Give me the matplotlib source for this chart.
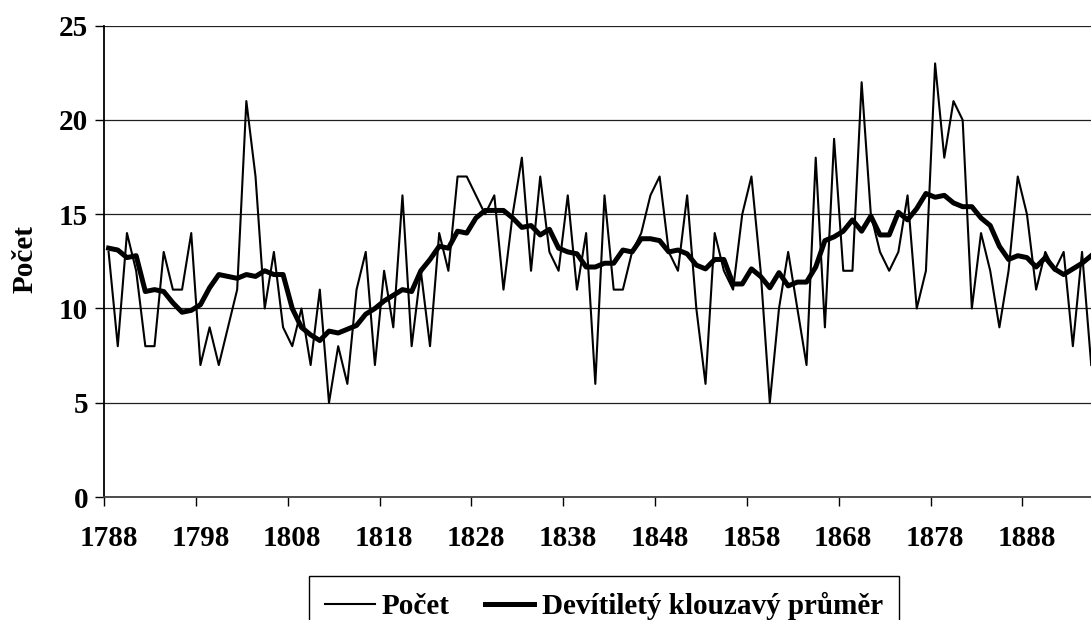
import matplotlib.pyplot as plt
import numpy as np

# yearly counts 1788-1895 and the 9-year moving average
years = np.arange(1788, 1896)
pocet = [13, 8, 14, 12, 8, 8, 13, 11, 11, 14,
         7, 9, 7, 9, 11, 21, 17, 10, 13, 9,
         8, 10, 7, 11, 5, 8, 6, 11, 13, 7,
         12, 9, 16, 8, 12, 8, 14, 12, 17, 17,
         16, 15, 16, 11, 15, 18, 12, 17, 13, 12,
         16, 11, 14, 6, 16, 11, 11, 13, 14, 16,
         17, 13, 12, 16, 10, 6, 14, 12, 11, 15,
         17, 12, 5, 10, 13, 10, 7, 18, 9, 19,
         12, 12, 22, 15, 13, 12, 13, 16, 10, 12,
         23, 18, 21, 20, 10, 14, 12, 9, 12, 17,
         15, 11, 13, 12, 13, 8, 13, 7]
prumer = [13.2, 13.1, 12.7, 12.8, 10.9, 11.0, 10.9, 10.3, 9.8, 9.9,
          10.2, 11.1, 11.8, 11.7, 11.6, 11.8, 11.7, 12.0, 11.8, 11.8,
          10.0, 9.0, 8.6, 8.3, 8.8, 8.7, 8.9, 9.1, 9.7, 10.0,
          10.4, 10.7, 11.0, 10.9, 12.0, 12.6, 13.3, 13.2, 14.1, 14.0,
          14.8, 15.2, 15.2, 15.2, 14.8, 14.3, 14.4, 13.9, 14.2, 13.2,
          13.0, 12.9, 12.2, 12.2, 12.4, 12.4, 13.1, 13.0, 13.7, 13.7,
          13.6, 13.0, 13.1, 12.9, 12.3, 12.1, 12.6, 12.6, 11.3, 11.3,
          12.1, 11.7, 11.1, 11.9, 11.2, 11.4, 11.4, 12.2, 13.6, 13.8,
          14.1, 14.7, 14.1, 14.9, 13.9, 13.9, 15.1, 14.7, 15.3, 16.1,
          15.9, 16.0, 15.6, 15.4, 15.4, 14.8, 14.4, 13.3, 12.6, 12.8,
          12.7, 12.2, 12.7, 12.1, 11.8, 12.1, 12.4, 12.8]
yticks = [0, 5, 10, 15, 20, 25]
xlabels = np.arange(1788, 1896, 10)

plt.rcParams['font.family'] = ['Liberation Serif', 'DejaVu Serif']
plt.rcParams['font.weight'] = 'bold'
FS = 21

fig = plt.figure(figsize=(10.91, 6.2), dpi=100)
ax = fig.add_axes([104 / 1091, 123 / 620, 1001 / 1091, 471.3 / 620])

ax.plot(years, pocet, color='black', lw=1.5, label='Počet')
ax.plot(years, prumer, color='black', lw=3.6, solid_joinstyle='round',
        label='Devítiletý klouzavý průměr')

ax.set_xlim(1787.5, 1896.5)
ax.set_ylim(0, 25)

# horizontal grid
ax.set_yticks(yticks)
ax.yaxis.grid(True, color='#202020', lw=0.9)
ax.set_axisbelow(True)
ax.tick_params(axis='y', direction='out', length=6.5, width=1, pad=5,
               labelsize=FS)

# category labels centred, tick marks between categories
ax.set_xticks(xlabels)
ax.set_xticklabels([str(y) for y in xlabels])
ax.set_xticks(np.arange(1787.5, 1897, 10), minor=True)
ax.tick_params(axis='x', which='major', length=0, pad=20, labelsize=FS)
ax.tick_params(axis='x', which='minor', direction='out', length=6.5, width=1)

for side in ['top', 'right']:
    ax.spines[side].set_visible(False)
ax.spines['left'].set_linewidth(1.3)
ax.spines['bottom'].set_linewidth(1.3)
ax.spines['bottom'].set_color('#404040')

fig.text(25 / 1091, 1 - 259 / 620, 'Počet', rotation=90, fontsize=FS,
         fontweight='bold', ha='center', va='center')

leg = fig.legend(loc='upper center', bbox_to_anchor=(604 / 1091, 1 - 576 / 620),
                 ncol=2, fontsize=FS, frameon=True, fancybox=False,
                 edgecolor='black', framealpha=1, borderaxespad=0,
                 borderpad=0.55, handlelength=1.7, handletextpad=0.25,
                 columnspacing=1.2)
leg.get_frame().set_linewidth(1)

fig.savefig('out.png', dpi=100)
